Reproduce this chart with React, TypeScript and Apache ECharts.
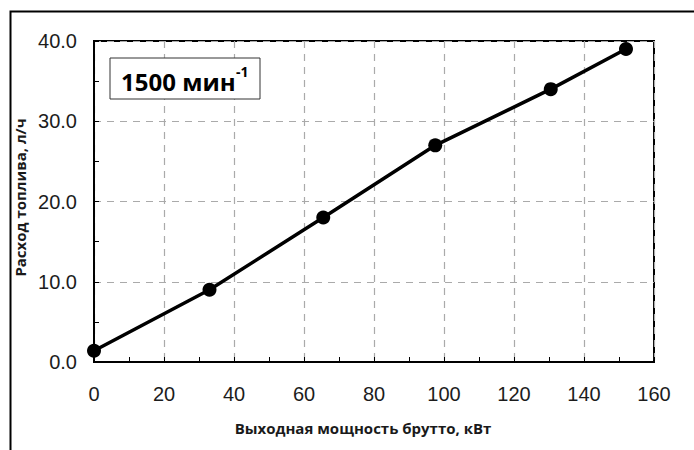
import React, { useEffect, useRef } from "react";
import * as echarts from "echarts";

const powerKW = [0, 33, 65.5, 97.5, 130.5, 152];
const fuelLph = [1.4, 9.0, 18.0, 27.0, 34.0, 39.0];
const xTitle = "Выходная мощность брутто, кВт";
const yTitle = "Расход топлива, л/ч";
const speedLabel = "1500 мин";
const speedSup = "-1";

export default function App() {
  const ref = useRef<HTMLDivElement>(null);
  useEffect(() => {
    document.body.style.margin = "0";
    const chart = echarts.init(ref.current!, null, { renderer: "svg" });
    const tickFont = { fontFamily: "Liberation Sans", fontSize: 20, color: "#1c1c1c" };
    const titleFont = { fontFamily: "Open Sans", fontWeight: "bold" as const, fontSize: 15, color: "#1a1a1a" };
    chart.setOption({
      animation: false,
      backgroundColor: "#fff",
      grid: {
        left: 94,
        right: 40,
        top: 41,
        bottom: 88,
        show: true,
        borderColor: "#000",
        borderWidth: 2,
        backgroundColor: "transparent",
      },
      xAxis: {
        type: "value",
        min: 0,
        max: 160,
        interval: 20,
        name: xTitle,
        nameLocation: "middle",
        nameGap: 58,
        nameTextStyle: { ...titleFont, padding: [0, 22, 0, 0] },
        axisLine: { show: true, onZero: false, lineStyle: { color: "#000", width: 2 } },
        axisTick: { show: true, inside: true, length: 5, lineStyle: { color: "#000" } },
        minorTick: { show: true, splitNumber: 2, length: 5, lineStyle: { color: "#000" } },
        axisLabel: { ...tickFont, margin: 22 },
        splitLine: { show: true, lineStyle: { color: "#aaa", type: [7, 6], width: 1.2 } },
      },
      yAxis: {
        type: "value",
        min: 0,
        max: 40,
        interval: 10,
        name: yTitle,
        nameLocation: "middle",
        nameGap: 66,
        nameTextStyle: { ...titleFont, padding: [0, 0, 0, 8] },
        axisLine: { show: true, onZero: false, lineStyle: { color: "#000", width: 2 } },
        axisTick: { show: true, inside: true, length: 5, lineStyle: { color: "#000" } },
        minorTick: { show: true, splitNumber: 2, length: 5, lineStyle: { color: "#000" } },
        axisLabel: { ...tickFont, margin: 17, formatter: (v: number) => v.toFixed(1) },
        splitLine: { show: true, lineStyle: { color: "#aaa", type: [7, 6], width: 1.2 } },
      },
      graphic: [
        {
          type: "rect",
          left: 8,
          top: 9,
          shape: { x: 0, y: 0, width: 720, height: 470 },
          style: { fill: "none", stroke: "#000", lineWidth: 2 },
          silent: true,
          z: 0,
        },
        {
          type: "rect",
          shape: { x: 110, y: 58, width: 150, height: 41 },
          style: { fill: "#fff", stroke: "#333", lineWidth: 1 },
          z: 10,
        },
        {
          type: "text",
          x: 121,
          y: 81,
          style: {
            text: speedLabel,
            fontFamily: "Open Sans",
            fontWeight: "bold",
            fontSize: 24,
            fill: "#000",
            verticalAlign: "middle",
          },
          z: 11,
        },
        {
          type: "text",
          x: 236,
          y: 71,
          style: {
            text: speedSup,
            fontFamily: "Open Sans",
            fontWeight: "bold",
            fontSize: 14,
            fill: "#000",
            verticalAlign: "middle",
          },
          z: 11,
        },
      ],
      series: [
        {
          type: "line",
          data: powerKW.map((x, i) => [x, fuelLph[i]]),
          symbol: "circle",
          symbolSize: 14,
          lineStyle: { color: "#000", width: 3.5 },
          itemStyle: { color: "#000" },
          z: 5,
        },
      ],
    });
    return () => chart.dispose();
  }, []);
  return <div ref={ref} style={{ width: 694, height: 450 }} />;
}
